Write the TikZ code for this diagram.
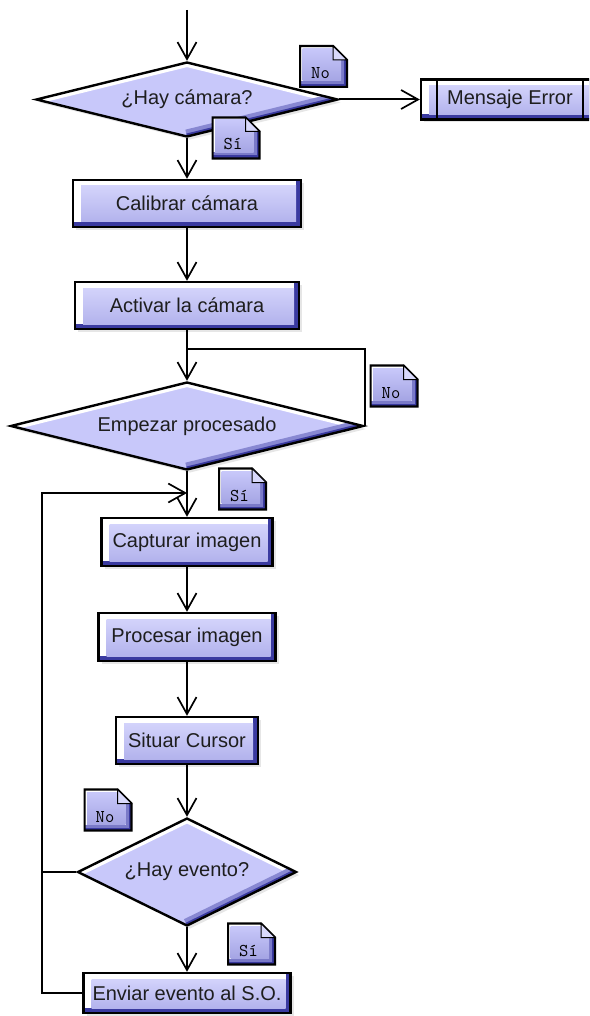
\documentclass[tikz,border=0pt]{standalone}
\usepackage{fontspec}
\setmainfont{Liberation Sans}
\usetikzlibrary{shapes.geometric,arrows.meta,shadows}

\definecolor{boxfill}{RGB}{200,200,250}
\definecolor{boxshade}{RGB}{58,58,160}
\definecolor{inktext}{RGB}{30,30,30}

\newcommand{\notetext}[1]{\raisebox{-12pt}[0pt][0pt]{\makebox[0pt]{\hspace*{-6pt}#1}}}

\begin{document}
\begin{tikzpicture}%
[x=1pt,y=-1pt,line width=2pt,%
arrow/.style={-{Straight Barb[length=17pt,width=19pt,line width=1.7pt]}},%
proc/.style={rectangle, draw, line width=2.4pt, inner sep=0pt, text=inktext,
  font=\fontsize{20}{23}\selectfont,
  drop shadow={shadow xshift=3pt, shadow yshift=-3pt, opacity=0.2},
  path picture={
    \fill[boxshade] (path picture bounding box.south west) rectangle (path picture bounding box.north east);
    \fill[white] ([yshift=5pt]path picture bounding box.south west) rectangle ([xshift=-5pt]path picture bounding box.north east);
    \shade[top color=boxfill!80, bottom color=boxfill!85!boxshade]
      ([shift={(8pt,5pt)}]path picture bounding box.south west) rectangle ([shift={(-5pt,-6pt)}]path picture bounding box.north east);
  }},%
decision/.style={diamond, draw, line width=2.4pt, inner sep=0pt, text=inktext,
  font=\fontsize{20}{23}\selectfont,
  drop shadow={shadow xshift=3pt, shadow yshift=-3pt, opacity=0.2},
  path picture={
    \fill[boxfill] (path picture bounding box.south west) rectangle (path picture bounding box.north east);
    \draw[white, line width=9pt] (path picture bounding box.west) -- (path picture bounding box.north) -- (path picture bounding box.east);
    \draw[boxfill!55!boxshade, line width=14pt] (path picture bounding box.south) -- (path picture bounding box.east);
    \draw[boxshade, line width=6pt] (path picture bounding box.south) -- (path picture bounding box.east);
  }},%
memo/.style={rectangle, inner sep=0pt, minimum width=49pt, minimum height=43pt,
  font=\ttfamily\fontsize{18}{20}\selectfont,
  path picture={
    \path (path picture bounding box.south west) coordinate (msw)
          (path picture bounding box.north east) coordinate (mne)
          (path picture bounding box.north west) coordinate (mnw)
          (path picture bounding box.south east) coordinate (mse);
    \begin{scope}
      \clip ([shift={(1pt,1pt)}]msw) -- ([shift={(1pt,-1pt)}]mnw) -- ([shift={(-15pt,-1pt)}]mne)
        -- ([shift={(-1pt,-15pt)}]mne) -- ([shift={(-1pt,1pt)}]mse) -- cycle;
      \fill[boxshade] (msw) rectangle (mne);
      \fill[boxfill!45!boxshade] ([yshift=4pt]msw) rectangle ([xshift=-4pt]mne);
      \fill[white] ([yshift=7pt]msw) rectangle ([xshift=-7pt]mne);
      \shade[top color=boxfill, bottom color=boxfill!75!boxshade]
        ([shift={(3.5pt,7pt)}]msw) rectangle ([shift={(-7pt,-3.5pt)}]mne);
    \end{scope}
    \draw[line width=2.2pt, line join=miter] ([shift={(1pt,1pt)}]msw) -- ([shift={(1pt,-1pt)}]mnw) -- ([shift={(-15pt,-1pt)}]mne)
        -- ([shift={(-1pt,-15pt)}]mne) -- ([shift={(-1pt,1pt)}]mse) -- cycle;
    \filldraw[fill=boxfill!70, line width=1pt] ([shift={(-15pt,-1pt)}]mne) -- ([shift={(-15pt,-15pt)}]mne) -- ([shift={(-1pt,-15pt)}]mne) -- cycle;
  }}]

\path[use as bounding box] (0,0) rectangle (589,1016);
\clip (0,0) rectangle (589,1016);

\coordinate (start) at (187,10);
\coordinate (loopy) at (0,349);
\coordinate (back) at (42,493);

\node[decision, minimum width=302, minimum height=75, aspect=4] (camq) at (187,99.5) {¿Hay cámara?};
\node[proc, minimum width=178, minimum height=40] (err) at (510,99.5) {Mensaje Error};
\node[proc, minimum width=228, minimum height=47] (calib) at (187,203.5) {Calibrar cámara};
\node[proc, minimum width=224, minimum height=47] (activ) at (187,305.5) {Activar la cámara};
\node[decision, minimum width=353, minimum height=88, aspect=4] (startq) at (187,426) {Empezar procesado};
\node[proc, minimum width=171, minimum height=48] (capt) at (187,542) {Capturar imagen};
\node[proc, minimum width=177, minimum height=48] (procs) at (187,637) {Procesar imagen};
\node[proc, minimum width=142, minimum height=47] (cursor) at (187,740.5) {Situar Cursor};
\node[decision, minimum width=219, minimum height=108, aspect=2] (eventq) at (187,872) {¿Hay evento?};
\node[proc, minimum width=207, minimum height=40] (send) at (187,993) {Enviar evento al S.O.};

% side bars of the error box
\draw[line width=2.2pt] ([xshift=17pt]err.north west) -- ([xshift=17pt]err.south west);
\draw[line width=2.2pt] ([xshift=-17pt]err.north east) -- ([xshift=-17pt]err.south east);

\draw[arrow] (start) -- (camq.north);
\draw[arrow] (camq.east) -- (err.west);
\draw[arrow] (camq.south) -- (calib.north);
\draw[arrow] (calib.south) -- (activ.north);
\draw[arrow] (activ.south) -- (startq.north);
\draw (startq.east) |- (activ.south |- loopy);
\draw[arrow] (startq.south) -- (capt.north);
\draw[arrow] (capt.south) -- (procs.north);
\draw[arrow] (procs.south) -- (cursor.north);
\draw[arrow] (cursor.south) -- (eventq.north);
\draw[arrow] (eventq.south) -- (send.north);
\draw (eventq.west) -- (eventq.west -| back);
\draw[arrow] (send.west) -| (back) -- (capt.north |- back);

\node[memo] (camno) at (323.5,66.5) {\notetext{No}};
\node[memo] (camsi) at (236,138) {\notetext{Sí}};
\node[memo] (startno) at (394,386) {\notetext{No}};
\node[memo] (startsi) at (242.5,489) {\notetext{Sí}};
\node[memo] (eventno) at (108,810) {\notetext{No}};
\node[memo] (eventsi) at (251.5,944) {\notetext{Sí}};
\end{tikzpicture}
\end{document}
